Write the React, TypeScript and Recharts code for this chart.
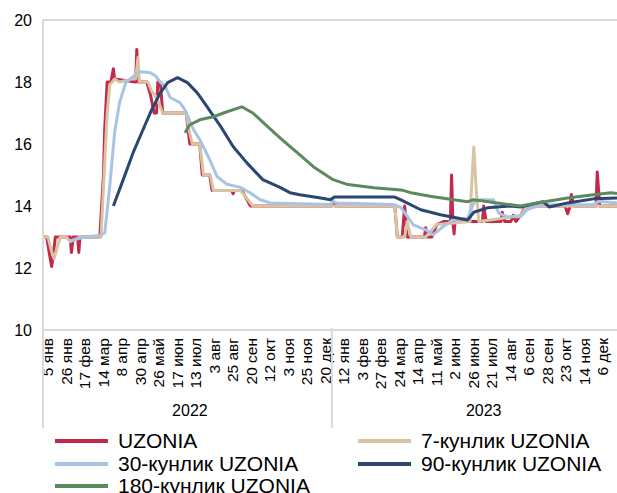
import React from 'react';
import { LineChart, Line, XAxis, YAxis, ReferenceLine, Legend } from 'recharts';

// x = business day counted from 5 Jan 2022, one tick label every 15 days
const xLabels = [
  '5 янв', '26 янв', '17 фев', '14 мар', '8 апр', '30 апр', '26 май', '17 июн',
  '13 июл', '3 авг', '25 авг', '20 сен', '12 окт', '3 ноя', '25 ноя', '20 дек',
  '12 янв', '3 фев', '27 фев', '24 мар', '14 апр', '11 май', '2 июн', '26 июн',
  '21 июл', '14 авг', '6 сен', '28 сен', '23 окт', '14 ноя', '6 дек',
];
const xTicks = xLabels.map((_, i) => i * 15);

const years = ['2022', '2023'];
const yearMid = [119, 357];
const yearSplit = [0, 234];

const yTicks = [10, 12, 14, 16, 18, 20];

const uzonia: [number, number][] = [
  [0, 13], [3, 13], [5, 12.5], [7, 12.05], [8, 12.3], [10, 13], [22, 13], [23, 12.5],
  [24.5, 13], [28, 13], [29, 12.5], [30, 13], [46, 13], [49, 15], [50, 16.5], [52, 18],
  [55, 18], [57, 18.43], [58, 18.1], [75, 18], [76, 19.05], [77, 18], [84, 18], [87, 17.6],
  [90, 17], [92, 17], [93, 18], [95, 18], [97, 17], [116, 17], [118, 16.3], [119, 16],
  [127, 16], [129, 15], [135, 15], [137, 14.5], [153, 14.5], [154, 14.4], [155, 14.5],
  [161, 14.5], [164, 14.3], [168, 14], [234, 14], [235, 14.1], [237, 14], [285, 14],
  [287, 13], [291, 13], [293, 14], [295, 13], [309, 13], [310, 13.3], [311, 13], [315, 13],
  [319, 13.4], [325, 13.5], [330, 13.5], [331, 15], [332, 13.5], [333, 13.1], [334, 13.6],
  [346, 13.5], [356, 13.5], [357, 14], [359, 13.5], [371, 13.5], [372, 13.8], [374, 13.5],
  [379, 13.5], [381, 13.7], [383, 13.5], [387, 13.7], [391, 14], [423, 14], [425, 13.75],
  [427, 14], [428, 14.37], [430, 14], [448, 14], [449, 15.1], [451, 14], [465, 14],
];

const uzonia7: [number, number][] = [
  [0, 13], [4, 13], [6.5, 12.6], [9, 12.3], [11, 12.6], [14, 13], [19, 13], [22, 12.85],
  [30, 13], [47, 13], [49.5, 15], [52, 17], [54, 17.9], [58, 18.1], [62, 18], [73, 18.1],
  [75, 18.1], [77, 18.8], [78, 18], [85, 18], [88, 17.7], [92, 17.5], [97, 17], [116, 17],
  [118, 16.5], [121, 16], [127, 16], [130, 15], [135.5, 15], [138, 14.5], [160, 14.5],
  [163, 14.35], [170, 14], [285, 14], [287, 13], [293, 13], [295, 13.5], [298, 13],
  [310, 13], [319, 13.4], [346, 13.5], [347, 14.5], [349, 15.9], [351, 14.5], [353, 13.5],
  [371, 13.6], [387, 13.7], [392, 14], [465, 14],
];

const uzonia30: [number, number][] = [
  [22, 12.88], [34, 13], [46, 13.05], [50, 13.13], [54, 14.6], [58, 16.37], [62, 17.33],
  [67, 17.98], [75, 18.24], [79, 18.33], [87, 18.3], [91, 18.2], [95, 18], [99, 17.86],
  [103, 17.5], [111, 17.33], [115, 17.1], [122, 16.46], [127, 16.14], [135, 15.5],
  [141, 14.95], [149, 14.7], [160, 14.6], [168, 14.42], [176, 14.2], [184, 14.1],
  [233, 14.05], [235, 14.15], [238, 14.1], [284, 14.05], [290, 13.95], [300, 13.39],
  [310, 13.23], [316, 13.07], [324, 13.33], [332, 13.55], [344, 13.6], [349, 14.1],
  [354, 14.2], [365, 14.2], [369, 13.78], [376, 13.65], [387, 13.65], [392, 13.88],
  [403, 14.04], [446, 14.05], [450, 14.15], [465, 14.1],
];

const uzonia90: [number, number][] = [
  [57, 14], [65, 14.85], [73, 15.72], [81, 16.46], [88, 17.1], [95, 17.65], [101, 17.98],
  [109, 18.14], [117, 17.98], [125, 17.65], [133, 17.2], [144, 16.56], [154, 15.92],
  [165, 15.4], [178, 14.85], [192, 14.6], [200, 14.43], [208, 14.36], [225, 14.26],
  [233, 14.2], [236, 14.29], [285, 14.29], [290, 14.2], [306, 13.88], [322, 13.72],
  [344, 13.55], [349, 13.8], [360, 13.94], [379, 14], [387, 13.97], [405, 14.14],
  [410, 13.97], [425, 14.1], [446, 14.23], [465, 14.26],
];

const uzonia180: [number, number][] = [
  [115, 16.36], [119, 16.62], [127, 16.78], [138, 16.88], [149, 17.04], [161, 17.2],
  [170, 17], [182, 16.56], [192, 16.2], [200, 15.92], [206, 15.72], [219, 15.27],
  [235, 14.85], [247, 14.69], [268, 14.59], [290, 14.52], [298, 14.43], [316, 14.3],
  [344, 14.14], [349, 14.2], [379, 14.04], [387, 14], [400, 14.1], [425, 14.26],
  [446, 14.36], [460, 14.43], [465, 14.4],
];

const series = [
  { name: 'UZONIA', color: '#C3294B', data: uzonia },
  { name: '7-кунлик UZONIA', color: '#D8C3A3', data: uzonia7 },
  { name: '30-кунлик UZONIA', color: '#A9C3E3', data: uzonia30 },
  { name: '90-кунлик UZONIA', color: '#2B4670', data: uzonia90 },
  { name: '180-кунлик UZONIA', color: '#5B8A5F', data: uzonia180 },
];

const FONT = '"Liberation Sans", Arial, sans-serif';

const DateTick = ({ x, y, payload }: any) => {
  const i = xTicks.indexOf(payload.value);
  return (
    <text
      x={0}
      y={0}
      transform={`translate(${x + 10}, ${y}) rotate(-90)`}
      textAnchor="end"
      fontSize={15.5}
      fontFamily={FONT}
      fill="#000"
    >
      {xLabels[i]}
    </text>
  );
};

const YearTick = ({ x, y, payload }: any) => {
  const v = payload.value;
  if (yearSplit.includes(v)) {
    return <line x1={x} x2={x} y1={y - 70} y2={y + 30} stroke="#D9D9D9" strokeWidth={2} />;
  }
  const i = yearMid.indexOf(v);
  return (
    <text x={x} y={y + 18} textAnchor="middle" fontSize={16} fontFamily={FONT} fill="#000">
      {years[i]}
    </text>
  );
};

const LegendBox = () => (
  <div
    style={{
      display: 'grid',
      gridTemplateColumns: '303px 250px',
      paddingLeft: 55,
      fontFamily: FONT,
      fontSize: 21,
      color: '#000',
      lineHeight: '22.5px',
    }}
  >
    {series.map((s) => (
      <div key={s.name} style={{ display: 'flex', alignItems: 'center', whiteSpace: 'nowrap' }}>
        <span style={{ display: 'inline-block', width: 53, height: 4, background: s.color, marginRight: 10 }} />
        {s.name}
      </div>
    ))}
  </div>
);

export default function App() {
  return (
    <div style={{ position: 'absolute', left: 0, top: 0, width: 617, height: 493, background: '#fff' }}>
      <LineChart width={617} height={493} margin={{ top: 20, right: 0, bottom: 0, left: 0 }}>
        <XAxis
          dataKey="x"
          type="number"
          domain={[0, 465]}
          ticks={xTicks}
          interval={0}
          tick={<DateTick />}
          tickLine={false}
          axisLine={{ stroke: '#D9D9D9', strokeWidth: 2 }}
          height={60}
          allowDataOverflow
        />
        <XAxis
          xAxisId="year"
          dataKey="x"
          type="number"
          domain={[0, 465]}
          ticks={[yearSplit[0], yearMid[0], yearSplit[1], yearMid[1]]}
          interval={0}
          tick={<YearTick />}
          tickLine={false}
          axisLine={false}
          height={40}
          allowDataOverflow
        />
        <YAxis
          type="number"
          domain={[10, 20]}
          ticks={yTicks}
          width={43}
          tickLine={false}
          tickMargin={5}
          axisLine={{ stroke: '#D9D9D9', strokeWidth: 2 }}
          tick={{ fontSize: 16, fill: '#000', fontFamily: FONT }}
          allowDataOverflow
        />
        <ReferenceLine y={20} stroke="#D9D9D9" strokeWidth={2} />
        {series.map((s) => (
          <Line
            key={s.name}
            data={s.data.map(([x, y]) => ({ x, y }))}
            dataKey="y"
            name={s.name}
            type="linear"
            stroke={s.color}
            strokeWidth={3}
            dot={false}
            activeDot={false}
            isAnimationActive={false}
            strokeLinejoin="round"
          />
        ))}
        <Legend verticalAlign="bottom" height={63} content={<LegendBox />} wrapperStyle={{ height: 63 }} />
      </LineChart>
    </div>
  );
}
